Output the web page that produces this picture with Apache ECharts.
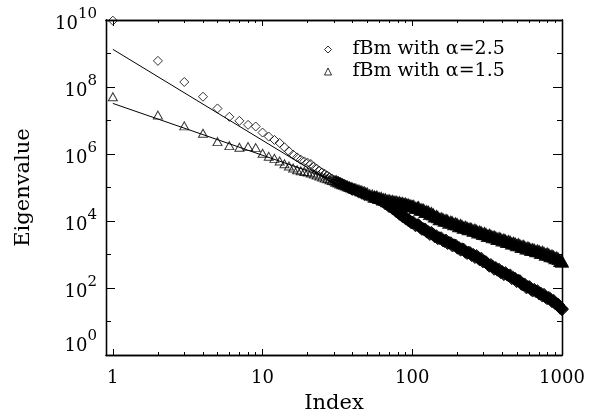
<!DOCTYPE html>
<html><head><meta charset="utf-8">
<script src="https://cdn.jsdelivr.net/npm/echarts@6/dist/echarts.min.js"></script>
<style>html,body{margin:0;padding:0;background:#fff}#c{width:597px;height:417px}</style>
</head><body><div id="c"></div>
<script>
const FONT = 'DejaVu Serif';

// Eigenvalue index (x)
const indexValues = [
  1,2,3,4,5,6,7,8,9,10,11,12,13,14,15,16,17,18,19,20,
  21,22,23,24,25,26,27,28,29,30,31,32,33,34,35,36,37,38,39,40,
  41,42,43,44,45,46,47,48,49,50,
  52,54,56,58,60,62,64,66,68,70,72,74,76,78,80,82,84,86,88,90,92,94,96,98,100,
  102,105,108,110,113,116,119,122,125,128,
  131,134,138,141,145,148,152,156,160,164,
  168,172,176,181,185,190,195,200,205,210,
  215,220,226,232,237,243,249,256,262,269,
  275,282,289,296,304,311,319,327,335,344,
  352,361,370,380,389,399,409,419,429,440,
  451,462,474,486,498,510,523,536,550,563,
  577,592,607,622,637,653,670,686,704,721,
  739,758,777,796,816,836,857,879,901,923,
  946,970,994,1000
];
// log10 of eigenvalue, fBm alpha = 2.5 (diamonds)
const alpha25Log10 = [
  9.98,8.78,8.15,7.71,7.36,7.11,6.99,6.87,6.82,6.64,6.52,6.42,6.33,6.20,6.08,5.98,5.90,5.83,5.78,5.74,
  5.70,5.62,5.56,5.50,5.45,5.41,5.36,5.31,5.27,5.23,5.20,5.17,5.14,5.11,5.08,5.05,5.02,5.00,4.98,4.96,
  4.94,4.90,4.89,4.85,4.86,4.81,4.81,4.77,4.78,4.75,
  4.74,4.70,4.70,4.66,4.65,4.60,4.58,4.52,4.50,4.44,4.43,4.37,4.35,4.29,4.27,4.21,4.20,4.14,4.13,4.08,4.07,4.02,4.01,3.96,3.95,
  3.95,3.87,3.88,3.88,3.81,3.76,3.76,3.75,3.68,3.67,
  3.61,3.65,3.60,3.54,3.55,3.48,3.49,3.49,3.42,3.40,
  3.42,3.34,3.35,3.34,3.27,3.28,3.27,3.20,3.20,3.14,
  3.16,3.15,3.08,3.04,3.06,3.05,2.98,2.99,2.92,2.96,
  2.90,2.85,2.88,2.79,2.79,2.77,2.71,2.66,2.69,2.64,
  2.57,2.60,2.54,2.55,2.47,2.48,2.41,2.45,2.40,2.37,
  2.38,2.29,2.30,2.28,2.20,2.22,2.21,2.12,2.10,2.11,
  2.02,2.03,2.03,1.96,1.92,1.95,1.90,1.91,1.83,1.84,
  1.77,1.80,1.73,1.69,1.71,1.67,1.60,1.62,1.54,1.52,
  1.50,1.41,1.39,1.36
];
// log10 of eigenvalue, fBm alpha = 1.5 (triangles)
const alpha15Log10 = [
  7.71,7.16,6.84,6.62,6.37,6.25,6.20,6.22,6.19,6.02,5.93,5.87,5.79,5.71,5.64,5.58,5.53,5.50,5.48,5.46,
  5.43,5.40,5.37,5.34,5.31,5.28,5.26,5.23,5.21,5.19,5.17,5.15,5.12,5.10,5.08,5.06,5.04,5.02,5.00,4.98,
  4.96,4.96,4.92,4.93,4.89,4.90,4.86,4.87,4.83,4.84,
  4.79,4.78,4.73,4.73,4.69,4.69,4.65,4.65,4.61,4.62,4.59,4.60,4.57,4.58,4.55,4.56,4.53,4.54,4.51,4.52,4.49,4.49,4.46,4.46,4.44,
  4.45,4.39,4.40,4.41,4.34,4.35,4.34,4.27,4.29,4.28,
  4.21,4.24,4.20,4.14,4.15,4.12,4.06,4.08,4.06,4.01,
  4.03,4.01,3.95,3.98,3.96,3.91,3.93,3.90,3.85,3.88,
  3.85,3.80,3.83,3.80,3.76,3.78,3.76,3.71,3.74,3.71,
  3.66,3.69,3.66,3.62,3.64,3.61,3.56,3.59,3.56,3.52,
  3.54,3.51,3.47,3.49,3.47,3.42,3.45,3.42,3.38,3.40,
  3.38,3.33,3.35,3.33,3.28,3.31,3.28,3.23,3.26,3.23,
  3.18,3.21,3.18,3.14,3.16,3.14,3.10,3.12,3.10,3.05,
  3.08,3.05,3.00,3.03,3.00,2.95,2.97,2.94,2.89,2.91,
  2.87,2.81,2.82,2.79
];
// fitted power-law lines (endpoints)
const fit25X = [1, 40];
const fit25Log10 = [9.125, 4.77];
const fit15X = [1, 40];
const fit15Log10 = [7.51, 5.03];

const xMajorTicks = [1, 10, 100, 1000];
const xMinorTicks = [2,3,4,5,6,7,8,9,20,30,40,50,60,70,80,90,200,300,400,500,600,700,800,900];
const yMajorTicks = [1, 1e2, 1e4, 1e6, 1e8, 1e10];
const yMinorTicks = [1e1, 1e3, 1e5, 1e7, 1e9];
const seriesNames = ['fBm with α=2.5', 'fBm with α=1.5'];

const toPairs = (xs, logs) => xs.map((x, k) => [x, Math.pow(10, logs[k])]);

// In the reference the crowded tail of each series is so overplotted that it
// reads as a solid black band; render the crowded parts accordingly.
const segments = [
  {lo: 0, hi: 30, size: 1, bw: 1, fill: 'rgba(0,0,0,0)'},
  {lo: 30, hi: 55, size: 1.05, bw: 1.8, fill: 'rgba(0,0,0,0)'},
  {lo: 55, hi: 1e9, size: 1.42, bw: 1, fill: '#000'}
];

const lineStyle = {color: '#000', width: 1.3};
function xAx(pos, ticks, len, withLabel) {
  const ax = {
    type: 'log', logBase: 10, min: 0.9, max: 1000, position: pos, gridIndex: 0,
    axisLine: {show: true, onZero: false, lineStyle},
    axisTick: {show: true, inside: true, length: len, customValues: ticks, lineStyle: {color: '#000', width: 1}},
    splitLine: {show: false}, minorTick: {show: false}, minorSplitLine: {show: false},
    axisLabel: {show: false}
  };
  if (withLabel) {
    ax.axisLabel = {show: true, customValues: xMajorTicks, margin: 14, color: '#000',
      fontFamily: FONT, fontSize: 18, formatter: v => String(Math.round(v))};
    ax.name = 'Index';
    ax.nameLocation = 'middle';
    ax.nameGap = 38;
    ax.nameTextStyle = {fontFamily: FONT, fontSize: 21, color: '#000'};
  }
  return ax;
}
function yAx(pos, ticks, len, withLabel) {
  const ax = {
    type: 'log', logBase: 10, min: 1, max: 1e10, position: pos, gridIndex: 0,
    axisLine: {show: true, onZero: false, lineStyle},
    axisTick: {show: true, inside: true, length: len, customValues: ticks, lineStyle: {color: '#000', width: 1}},
    splitLine: {show: false}, minorTick: {show: false}, minorSplitLine: {show: false},
    axisLabel: {show: false}
  };
  if (withLabel) {
    ax.axisLabel = {show: true, customValues: yMajorTicks, margin: 9,
      verticalAlignMinLabel: 'bottom',
      formatter: v => '{b|10}{s|' + Math.round(Math.log10(v)) + '}',
      rich: {
        b: {fontFamily: FONT, fontSize: 18, color: '#000', verticalAlign: 'bottom'},
        s: {fontFamily: FONT, fontSize: 15, color: '#000', verticalAlign: 'bottom', padding: [0, 0, 11, 0]}
      }};
    ax.name = 'Eigenvalue';
    ax.nameLocation = 'middle';
    ax.nameGap = 72;
    ax.nameTextStyle = {fontFamily: FONT, fontSize: 21, color: '#000'};
  }
  return ax;
}

function scatterSeries(name, symbol, baseSize, logs) {
  const pairs = toPairs(indexValues, logs);
  return segments.map(seg => ({
    name, type: 'scatter', xAxisIndex: 0, yAxisIndex: 0, symbol,
    symbolSize: [baseSize[0] * seg.size, baseSize[1] * seg.size],
    itemStyle: {color: seg.fill, borderColor: '#000', borderWidth: seg.bw},
    data: pairs.filter(p => p[0] > seg.lo && p[0] <= seg.hi)
  }));
}

const chart = echarts.init(document.getElementById('c'), null, {renderer: 'canvas'});
chart.setOption({
  backgroundColor: '#fff',
  animation: false,
  grid: {left: 106, right: 35, top: 20, bottom: 62, outerBoundsMode: 'none', containLabel: false},
  xAxis: [xAx('bottom', xMajorTicks, 6, true), xAx('bottom', xMinorTicks, 3, false),
          xAx('top', xMajorTicks, 6, false), xAx('top', xMinorTicks, 3, false)],
  yAxis: [yAx('left', yMajorTicks, 9, true), yAx('left', yMinorTicks, 5, false),
          yAx('right', yMajorTicks, 9, false), yAx('right', yMinorTicks, 5, false)],
  legend: {
    orient: 'vertical', left: 324, top: 40, padding: 0, itemWidth: 7, itemHeight: 7, itemGap: 3,
    selectedMode: false,
    itemStyle: {color: 'rgba(0,0,0,0)', borderColor: '#000', borderWidth: 1},
    formatter: '{t|{name}}',
    textStyle: {color: '#000', fontFamily: FONT, fontSize: 19,
      rich: {t: {fontFamily: FONT, fontSize: 19, color: '#000', padding: [0, 0, 0, 16]}}},
    data: [{name: seriesNames[0], icon: 'diamond'}, {name: seriesNames[1], icon: 'triangle'}]
  },
  series: [
    ...scatterSeries(seriesNames[0], 'diamond', [9, 9], alpha25Log10),
    ...scatterSeries(seriesNames[1], 'triangle', [9, 8], alpha15Log10),
    {name: 'fit α=2.5', type: 'line', xAxisIndex: 0, yAxisIndex: 0, showSymbol: false, symbol: 'none',
     lineStyle: {color: '#000', width: 1}, data: toPairs(fit25X, fit25Log10)},
    {name: 'fit α=1.5', type: 'line', xAxisIndex: 0, yAxisIndex: 0, showSymbol: false, symbol: 'none',
     lineStyle: {color: '#000', width: 1}, data: toPairs(fit15X, fit15Log10)}
  ]
});
</script></body></html>
